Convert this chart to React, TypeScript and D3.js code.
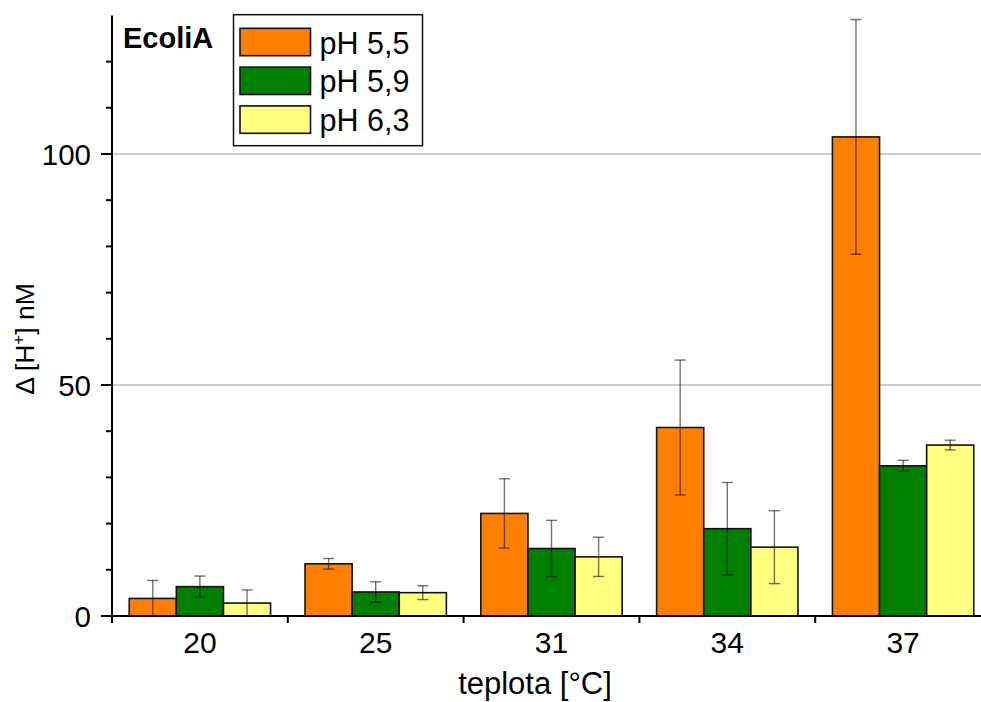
import React from "react";
import * as d3 from "d3";

const categories = ["20", "25", "31", "34", "37"];
const seriesNames = ["pH 5,5", "pH 5,9", "pH 6,3"];
const colors = ["#FF8000", "#007F00", "#FFFF80"];
const valuesPH55 = [3.8, 11.3, 22.2, 40.8, 103.7];
const valuesPH59 = [6.35, 5.2, 14.6, 18.9, 32.5];
const valuesPH63 = [2.8, 5.05, 12.8, 14.9, 37.0];
const errPH55 = [3.9, 1.15, 7.5, 14.6, 25.4];
const errPH59 = [2.3, 2.2, 6.1, 10.0, 1.2];
const errPH63 = [2.85, 1.5, 4.25, 7.9, 1.05];
const yMajorTicks = [0, 50, 100];
const yMinorTicks = [10, 20, 30, 40, 60, 70, 80, 90, 110, 120];
const gridValues = [50, 100];

const W = 981;
const H = 702;
const left = 112;
const right = 991;
const bottom = 616;
const top = 15.4;

export default function App() {
  const values = [valuesPH55, valuesPH59, valuesPH63];
  const errs = [errPH55, errPH59, errPH63];
  const x0 = d3.scaleBand<string>().domain(categories).range([left, right]).padding(0);
  const step = x0.bandwidth();
  const x1 = d3
    .scaleBand<string>()
    .domain(seriesNames)
    .range([step * 0.098, step * 0.902])
    .padding(0);
  const y = d3.scaleLinear().domain([0, 130]).range([bottom, top]);
  const font = "'Liberation Sans', Arial, sans-serif";
  const capW = 5.5;

  return (
    <svg
      width={W}
      height={H}
      style={{ position: "absolute", left: 0, top: 0, background: "#fff" }}
      fontFamily={font}
    >
      <rect x={0} y={0} width={W} height={H} fill="#fff" />
      {/* grid */}
      {gridValues.map((g) => (
        <line key={g} x1={left} x2={W} y1={y(g)} y2={y(g)} stroke="#bdbdbd" strokeWidth={1.3} />
      ))}
      {/* bars */}
      {categories.map((c, ci) =>
        seriesNames.map((s, si) => {
          const bx = (x0(c) as number) + (x1(s) as number);
          const v = values[si][ci];
          return (
            <rect
              key={c + s}
              x={bx}
              y={y(v)}
              width={x1.bandwidth()}
              height={bottom - y(v)}
              fill={colors[si]}
              stroke="#111"
              strokeWidth={1.6}
            />
          );
        })
      )}
      {/* error bars */}
      {categories.map((c, ci) =>
        seriesNames.map((s, si) => {
          const cx = (x0(c) as number) + (x1(s) as number) + x1.bandwidth() / 2;
          const v = values[si][ci];
          const e = errs[si][ci];
          const yt = y(v + e);
          const yb = y(Math.max(0, v - e));
          return (
            <g key={"e" + c + s} stroke="rgba(0,0,0,0.55)" strokeWidth={1.4}>
              <line x1={cx} x2={cx} y1={yt} y2={yb} />
              <line x1={cx - capW} x2={cx + capW} y1={yt} y2={yt} />
              <line x1={cx - capW} x2={cx + capW} y1={yb} y2={yb} />
            </g>
          );
        })
      )}
      {/* y axis */}
      <line x1={left} x2={left} y1={top} y2={bottom + 7} stroke="#000" strokeWidth={2} />
      {yMajorTicks.map((t) => (
        <g key={"ym" + t}>
          <line x1={left - 11} x2={left} y1={y(t)} y2={y(t)} stroke="#000" strokeWidth={2} />
          <text x={91} y={y(t)} dy="0.36em" textAnchor="end" fontSize={29.5} fill="#000">
            {t}
          </text>
        </g>
      ))}
      {yMinorTicks.map((t) => (
        <line key={"yn" + t} x1={left - 6} x2={left} y1={y(t)} y2={y(t)} stroke="#000" strokeWidth={2} />
      ))}
      {/* x axis */}
      <line x1={left} x2={W} y1={bottom} y2={bottom} stroke="#000" strokeWidth={2} />
      {categories.map((c) => (
        <g key={"xt" + c}>
          <line
            x1={x0(c) as number}
            x2={x0(c) as number}
            y1={bottom}
            y2={bottom + 7}
            stroke="#000"
            strokeWidth={2}
          />
          <text
            x={(x0(c) as number) + step / 2}
            y={653}
            textAnchor="middle"
            fontSize={30}
            fill="#000"
          >
            {c}
          </text>
        </g>
      ))}
      {/* axis titles */}
      <text x={535} y={694} textAnchor="middle" fontSize={31} fill="#000">
        teplota [°C]
      </text>
      <text
        transform={`translate(34,339) rotate(-90)`}
        textAnchor="middle"
        fontSize={26.5}
        fill="#000"
      >
        Δ [H<tspan dy={-10} fontSize={17}>+</tspan>
        <tspan dy={10}>] nM</tspan>
      </text>
      {/* label */}
      <text x={123} y={47.5} fontSize={29} fontWeight="bold" fill="#000">
        EcoliA
      </text>
      {/* legend */}
      <rect x={233.5} y={14.7} width={189} height={131} fill="#fff" stroke="#111" strokeWidth={1.5} />
      {seriesNames.map((s, i) => (
        <g key={"lg" + s}>
          <rect
            x={240}
            y={28.3 + i * 38.8}
            width={70.5}
            height={27.4}
            fill={colors[i]}
            stroke="#111"
            strokeWidth={1.6}
          />
          <text x={319.5} y={53.5 + i * 38.6} fontSize={30.5} fill="#000">
            {s}
          </text>
        </g>
      ))}
    </svg>
  );
}
